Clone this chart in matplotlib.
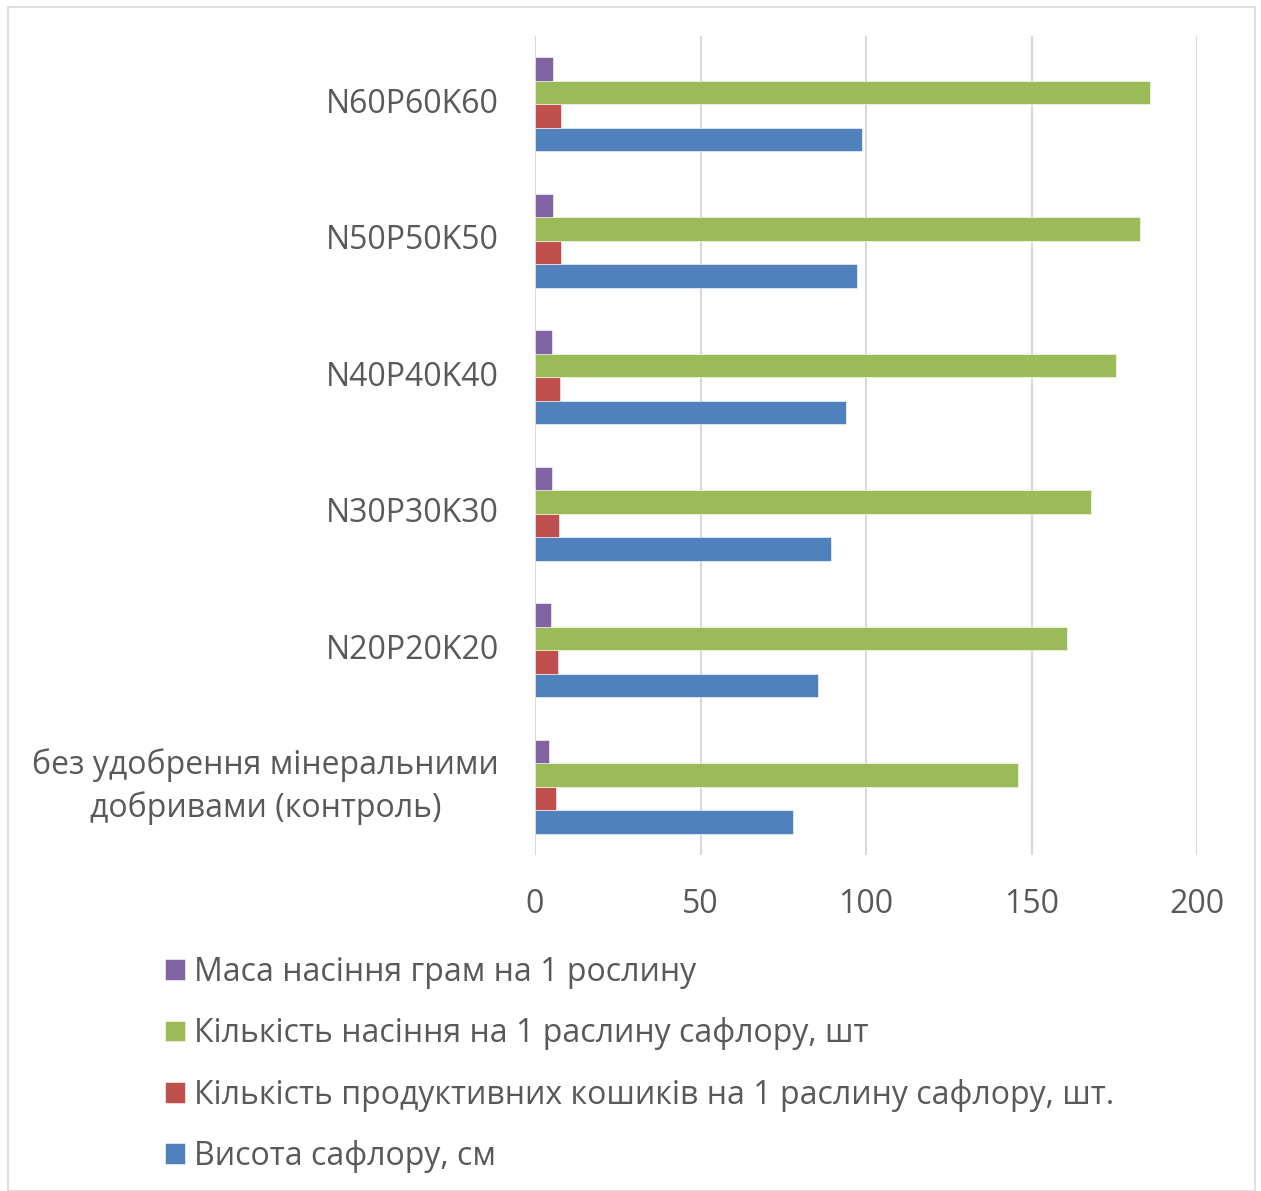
import numpy as np
import matplotlib.pyplot as plt
from matplotlib.patches import Rectangle

plt.rcParams['font.family'] = ['Open Sans', 'DejaVu Sans']

categories = ['без удобрення мінеральними\nдобривами (контроль)', 'N20P20K20',
              'N30P30K30', 'N40P40K40', 'N50P50K50', 'N60P60K60']
height_cm = [77.8, 85.6, 89.5, 94.0, 97.3, 98.8]
baskets = [6.25, 6.9, 7.2, 7.5, 7.8, 7.95]
seeds = [146.0, 160.8, 168.0, 175.5, 182.8, 185.7]
seed_mass = [4.3, 4.7, 5.0, 5.2, 5.4, 5.5]

names = ['Висота сафлору, см',
         'Кількість продуктивних кошиків на 1 раслину сафлору, шт.',
         'Кількість насіння на 1 раслину сафлору, шт',
         'Маса насіння грам на 1 рослину']
colors = ['#4f81bd', '#c0504d', '#9bbb59', '#8064a2']

fs = 23

fig = plt.figure(figsize=(12.61, 11.91), dpi=100)
ax = fig.add_axes([535/1261, 1 - 855/1191, (1197 - 535)/1261, (855 - 36)/1191])

y = np.arange(len(categories))
h = 0.172
series = [height_cm, baskets, seeds, seed_mass]
bars = []
for i, (vals, c, n) in enumerate(zip(series, colors, names)):
    b = ax.barh(y + (i - 1.5) * h, vals, height=h, color=c, label=n,
                edgecolor='white', linewidth=0.4)
    bars.append(b)

ax.set_xlim(0, 200)
ax.set_ylim(-0.5, 5.5)
ax.set_xticks([0, 50, 100, 150, 200])
ax.set_yticks(y)
ax.set_yticklabels(categories, multialignment='center', linespacing=1.33, va='center')
ax.tick_params(length=0, labelsize=fs, labelcolor='#595959')
ax.tick_params(axis='y', pad=26)
ax.tick_params(axis='x', pad=24)
ax.xaxis.grid(True, color='#d9d9d9', linewidth=1.5)
ax.set_axisbelow(True)
for s in ax.spines.values():
    s.set_visible(False)

fig.legend(handles=bars[::-1], labels=names[::-1], loc='upper left',
           bbox_to_anchor=(152/1261, 1 - 943/1191), frameon=False,
           fontsize=fs, labelcolor='#595959', handlelength=0.62,
           handleheight=0.62, handletextpad=0.3, labelspacing=0.89,
           borderaxespad=0)

fig.patches.append(Rectangle((8/1261, 0), 1247/1261, 1 - 7/1191,
                             transform=fig.transFigure, fill=False,
                             edgecolor='#d9d9d9', linewidth=1.2))

fig.savefig('out.png', dpi=100)
